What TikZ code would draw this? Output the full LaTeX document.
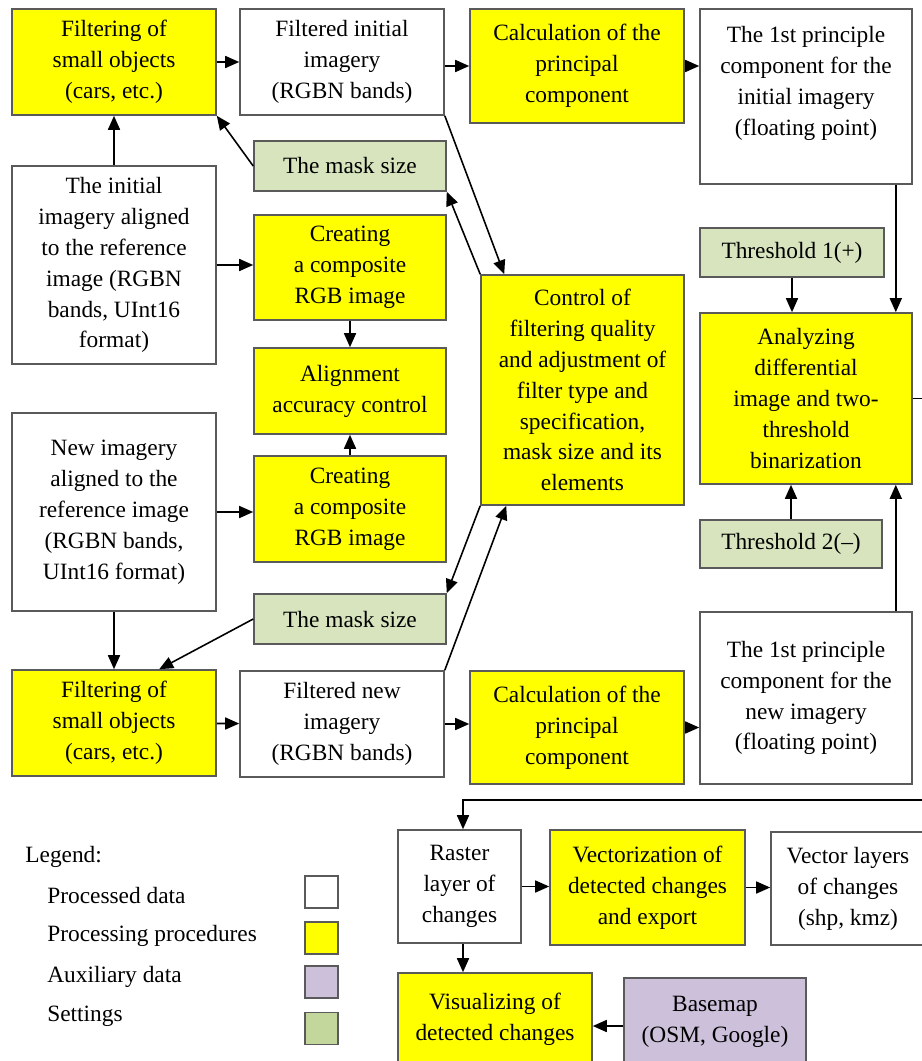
\documentclass[tikz,border=0pt]{standalone}
\usepackage{fontspec}
\setmainfont{Liberation Serif}
\usetikzlibrary{arrows.meta,positioning,calc}
\definecolor{procyellow}{RGB}{255,255,0}
\definecolor{setgreen}{RGB}{215,228,189}
\definecolor{swatchgreen}{RGB}{195,214,155}
\definecolor{auxpurple}{RGB}{204,192,218}
\definecolor{edgegray}{RGB}{90,90,90}
\tikzset{
  basebox/.style={draw=edgegray,line width=0.9pt,align=center,inner sep=1pt,
    font=\fontsize{13.3}{17.6}\selectfont},
  boxsize/.style 2 args={minimum width=#1*0.02cm,minimum height=#2*0.02cm},
  databox/.style={basebox,fill=white},
  procbox/.style={basebox,fill=procyellow},
  setbox/.style={basebox,fill=setgreen},
  auxbox/.style={basebox,fill=auxpurple},
  flowarrow/.style={-{Triangle[length=2.8mm,width=2.4mm]},line width=0.9pt},
  legendtext/.style={anchor=west,inner sep=0pt,font=\fontsize{13.3}{17.6}\selectfont},
  swatch/.style={draw=edgegray,line width=0.9pt,minimum width=0.66cm,
    minimum height=0.64cm,inner sep=0pt},
}

\begin{document}
\begin{tikzpicture}[x=0.02cm,y=-0.02cm]
  \useasboundingbox (0,0) rectangle (921,1061);
  % initial imagery branch
  \node[procbox,boxsize={204}{106}] (filt1) at (114,62) {Filtering of\\small objects\\(cars, etc.)};
  \node[databox,boxsize={204}{106}] (filtimg1) at (342,62) {Filtered initial\\imagery\\(RGBN bands)};
  \node[procbox,boxsize={214}{114}] (calc1) at (577,66) {Calculation of the\\principal\\component};
  \node[databox,boxsize={212}{175}] (pc1) at (806,96.5) {The 1st principle\\component for the\\initial imagery\\(floating point)\\ \mbox{}};
  \node[setbox,boxsize={192}{50}] (mask1) at (350,166) {The mask size};
  \node[databox,boxsize={204}{198}] (initimg) at (114,265) {The initial\\imagery aligned\\to the reference\\image (RGBN\\bands, UInt16\\format)};
  \node[procbox,boxsize={192}{105}] (comp1) at (350,267.5) {Creating\\a composite\\RGB image};
  \node[procbox,boxsize={192}{86}] (align) at (350,391) {Alignment\\accuracy control};
  \node[procbox,boxsize={192}{106}] (comp2) at (350,509) {Creating\\a composite\\RGB image};
  \node[procbox,boxsize={203}{230}] (control) at (582.5,390) {Control of\\filtering quality\\and adjustment of\\filter type and\\specification,\\mask size and its\\elements};
  % thresholds and differencing
  \node[setbox,boxsize={184}{49}] (thr1) at (792,252.5) {Threshold 1(+)};
  \node[procbox,boxsize={212}{171}] (analyze) at (806,398.5) {Analyzing\\differential\\image and two-\\threshold\\binarization};
  \node[setbox,boxsize={182}{48}] (thr2) at (791,544) {Threshold 2(–)};
  % new imagery branch
  \node[databox,boxsize={204}{198}] (newimg) at (114,512) {New imagery\\aligned to the\\reference image\\(RGBN bands,\\UInt16 format)};
  \node[setbox,boxsize={192}{50}] (mask2) at (350,619) {The mask size};
  \node[procbox,boxsize={204}{106}] (filt2) at (114,723) {Filtering of\\small objects\\(cars, etc.)};
  \node[databox,boxsize={204}{106}] (filtimg2) at (342,724) {Filtered new\\imagery\\(RGBN bands)};
  \node[procbox,boxsize={214}{113}] (calc2) at (577,727.5) {Calculation of the\\principal\\component};
  \node[databox,boxsize={212}{172}] (pc2) at (806,698) {The 1st principle\\component for the\\new imagery\\(floating point)};
  % output
  \node[databox,boxsize={123}{113}] (raster) at (459.5,886.5) {Raster\\layer of\\changes};
  \node[procbox,boxsize={195}{115}] (vector) at (647.5,887.5) {Vectorization of\\detected changes\\and export};
  \node[databox,boxsize={154}{113}] (layers) at (848,888.5) {Vector layers\\of changes\\(shp, kmz)};
  \node[procbox,boxsize={194}{93}] (visual) at (495,1019.5) {Visualizing of\\detected changes};
  \node[auxbox,boxsize={182}{88}] (basemap) at (715,1022) {Basemap\\(OSM, Google)};
  \coordinate (turn) at (935,800);
  \coordinate (rastdown) at ($(raster.south)+(3.5,0)$);
  \coordinate (baseleft) at ($(basemap.west)+(0,4)$);
  % legend
  \node[legendtext] (legend) at (25,857) {Legend:};
  \node[legendtext] (lgdata) at (47,895) {Processed data};
  \node[legendtext] (lgproc) at (47,936) {Processing procedures};
  \node[legendtext] (lgaux) at (47,977) {Auxiliary data};
  \node[legendtext] (lgset) at (47,1016) {Settings};
  \node[swatch,fill=white] (swdata) at (321.5,892) {};
  \node[swatch,fill=procyellow] (swproc) at (321.5,938) {};
  \node[swatch,fill=auxpurple] (swaux) at (321.5,982) {};
  \node[swatch,fill=swatchgreen] (swset) at (321.5,1028.5) {};
  % connectors
  \draw[flowarrow] (filt1) -- (filtimg1);
  \draw[flowarrow] (filtimg1.east |- calc1.west) -- (calc1.west);
  \draw[flowarrow] (calc1.east) -- (calc1.east -| pc1.west);
  \draw[flowarrow] (initimg) -- (filt1);
  \draw[flowarrow] (mask1.west) -- (filt1.south east);
  \draw[flowarrow] (filtimg1.south east) -- ($(control.north west)+(24,0)$);
  \draw[flowarrow] (control.north west) -- (mask1.south east);
  \draw[flowarrow] (initimg.east) -- (initimg.east -| comp1.west);
  \draw[flowarrow] (comp1) -- (align);
  \draw[flowarrow] (comp2) -- (align);
  \draw[flowarrow] (newimg.east) -- (newimg.east -| comp2.west);
  \draw[flowarrow] (control.south west) -- (mask2.north east);
  \draw[flowarrow] (filtimg2.north east) -- ($(control.south west)+(26,0)$);
  \draw[flowarrow] (mask2.west) -- ($(filt2.north west)+(148,0)$);
  \draw[flowarrow] (newimg) -- (filt2);
  \draw[flowarrow] (filt2) -- (filtimg2);
  \draw[flowarrow] (filtimg2.east) -- (filtimg2.east -| calc2.west);
  \draw[flowarrow] (calc2.east) -- (calc2.east -| pc2.west);
  \draw[flowarrow] (thr1) -- (thr1 |- analyze.north);
  \draw[flowarrow] ($(pc1.south east)+(-17,0)$) -- ($(analyze.north east)+(-17,0)$);
  \draw[flowarrow] (thr2) -- (thr2 |- analyze.south);
  \draw[flowarrow] ($(pc2.north east)+(-17,0)$) -- ($(analyze.south east)+(-17,0)$);
  \draw[flowarrow] (analyze.east) -| (turn) -| ($(raster.north)+(3.5,0)$);
  \draw[flowarrow] (raster.east) -- (raster.east -| vector.west);
  \draw[flowarrow] (vector.east) -- (vector.east -| layers.west);
  \draw[flowarrow] (rastdown) -- (rastdown |- visual.north);
  \draw[flowarrow] (baseleft) -- (baseleft -| visual.east);
\end{tikzpicture}
\end{document}
